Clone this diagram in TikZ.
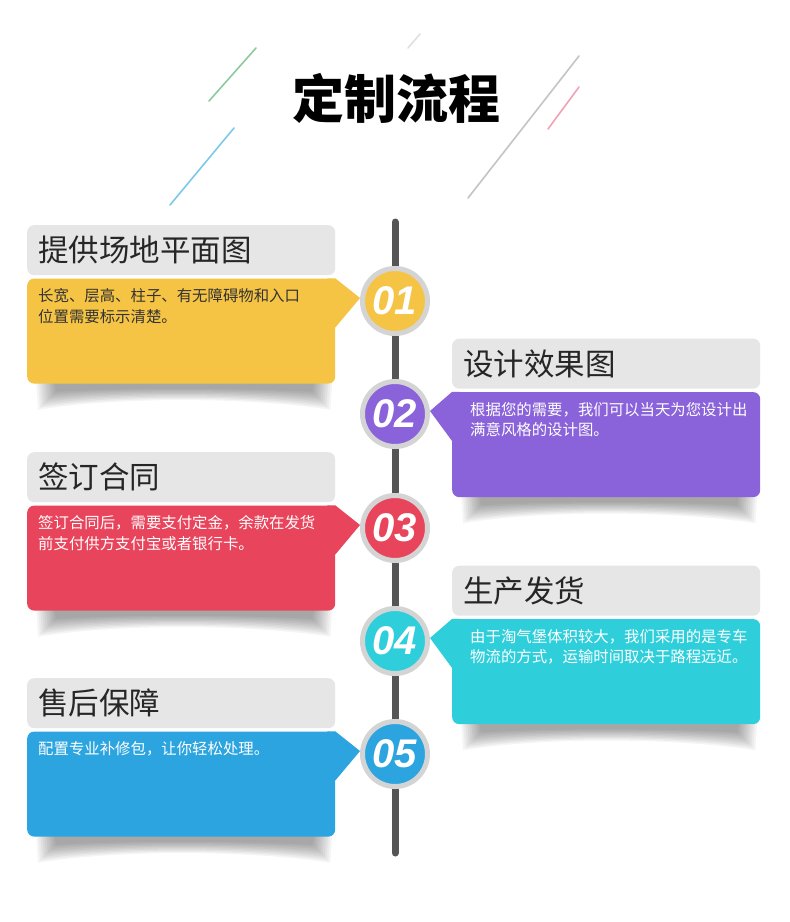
\documentclass[tikz,border=0pt]{standalone}
\usepackage{fontspec}
\newfontfamily\cjk{Noto Sans CJK SC}
\newfontfamily\numfont{Liberation Sans}
\usetikzlibrary{backgrounds,positioning}

\definecolor{stepyellow}{HTML}{F6C445}
\definecolor{steppurple}{HTML}{8A62DA}
\definecolor{stepred}{HTML}{E8445B}
\definecolor{stepcyan}{HTML}{2ECFDB}
\definecolor{stepblue}{HTML}{2BA4DF}
\definecolor{headgray}{HTML}{E6E6E6}
\definecolor{ringgray}{HTML}{D4D4D4}
\definecolor{railgray}{HTML}{555555}
\definecolor{strokegreen}{HTML}{8CCB9E}
\definecolor{strokeblue}{HTML}{7CC9EA}
\definecolor{strokegray}{HTML}{C4C4C4}
\definecolor{strokepink}{HTML}{F2A2B4}

\tikzset{
    flow chart/.style = {x=1pt, y=-1pt},
    rail/.style       = {line width=7pt, railgray, line cap=round},
    stroke/.style     = {line width=1.6pt, line cap=round},
    heading/.style    = {fill=headgray, rounded corners=7pt, inner xsep=11pt,
                         text width=286pt, align=left, minimum height=50pt,
                         text=black!85,
                         font=\cjk\fontsize{30.5}{32}\selectfont},
    card/.style       = {fill=#1, rounded corners=7pt, inner sep=0pt,
                         minimum width=308pt, minimum height=105pt},
    body/.style       = {align=left, inner sep=0pt, text=white,
                         font=\cjk\fontsize{15.4}{20.5}\selectfont},
    badge/.style      = {circle, fill=#1, draw=ringgray, line width=5pt,
                         minimum size=65pt, inner sep=0pt, text=white,
                         font=\numfont\bfseries\itshape\fontsize{40}{40}\selectfont},
    curl shadow/.style = {fill=black, opacity=0.04}
}

\begin{document}
\begin{tikzpicture}[flow chart]

\useasboundingbox (0,0) rectangle (790,922);

% ================= Title and strokes =================
\node[font=\cjk\bfseries\fontsize{52}{52}\selectfont] (title) at (396, 98) {定制流程};
\draw[stroke, strokegreen] (256, 48) -- (209, 101);
\draw[stroke, black!12] (420, 34) -- (408, 48);
\draw[stroke, strokeblue] (234, 128) -- (170, 205);
\draw[stroke, strokegray] (579, 56) -- (468, 198);
\draw[stroke, strokepink] (579, 87) -- (548, 129);

% ================= Timeline =================
\coordinate (rail top) at (395, 222);
\coordinate (rail bottom) at (395, 853);
\draw[rail] (rail top) -- (rail bottom);

% ================= Step 01 =================
\node[heading, anchor=north west] (head 1) at (27, 225) {提供场地平面图};
\node[card=stepyellow, below=3pt of head 1] (card 1) {};
\node[badge=stepyellow] (badge 1) at (395, 301) {01};
\fill[stepyellow] (card 1.north east) -- ([yshift=3pt]badge 1.west)
    -- ([yshift=-49pt]card 1.north east) -- ([xshift=-8pt, yshift=-49pt]card 1.north east)
    -- ([xshift=-8pt]card 1.north east) -- cycle;
\node[body, text=black!80, anchor=north west] (body 1)
    at ([xshift=11pt, yshift=-10pt]card 1.north west)
    {长宽、层高、柱子、有无障碍物和入口\\位置需要标示清楚。};

% ================= Step 02 =================
\node[heading, anchor=north west] (head 2) at (452, 338.5) {设计效果图};
\node[card=steppurple, below=3pt of head 2] (card 2) {};
\node[badge=steppurple] (badge 2) at (395, 414) {02};
\fill[steppurple] (card 2.north west) -- ([yshift=3pt]badge 2.east)
    -- ([yshift=-49pt]card 2.north west) -- ([xshift=8pt, yshift=-49pt]card 2.north west)
    -- ([xshift=8pt]card 2.north west) -- cycle;
\node[body, anchor=north west] (body 2)
    at ([xshift=18pt, yshift=-10pt]card 2.north west)
    {根据您的需要，我们可以当天为您设计出\\满意风格的设计图。};

% ================= Step 03 =================
\node[heading, anchor=north west] (head 3) at (27, 452) {签订合同};
\node[card=stepred, below=3pt of head 3] (card 3) {};
\node[badge=stepred] (badge 3) at (395, 528) {03};
\fill[stepred] (card 3.north east) -- ([yshift=3pt]badge 3.west)
    -- ([yshift=-49pt]card 3.north east) -- ([xshift=-8pt, yshift=-49pt]card 3.north east)
    -- ([xshift=-8pt]card 3.north east) -- cycle;
\node[body, anchor=north west] (body 3)
    at ([xshift=11pt, yshift=-10pt]card 3.north west)
    {签订合同后，需要支付定金，余款在发货\\前支付供方支付宝或者银行卡。};

% ================= Step 04 =================
\node[heading, anchor=north west] (head 4) at (452, 565.5) {生产发货};
\node[card=stepcyan, below=3pt of head 4] (card 4) {};
\node[badge=stepcyan] (badge 4) at (395, 641) {04};
\fill[stepcyan] (card 4.north west) -- ([yshift=3pt]badge 4.east)
    -- ([yshift=-49pt]card 4.north west) -- ([xshift=8pt, yshift=-49pt]card 4.north west)
    -- ([xshift=8pt]card 4.north west) -- cycle;
\node[body, anchor=north west] (body 4)
    at ([xshift=18pt, yshift=-10pt]card 4.north west)
    {由于淘气堡体积较大，我们采用的是专车\\物流的方式，运输时间取决于路程远近。};

% ================= Step 05 =================
\node[heading, anchor=north west] (head 5) at (27, 678) {售后保障};
\node[card=stepblue, below=3pt of head 5] (card 5) {};
\node[badge=stepblue] (badge 5) at (395, 754) {05};
\fill[stepblue] (card 5.north east) -- ([yshift=3pt]badge 5.west)
    -- ([yshift=-49pt]card 5.north east) -- ([xshift=-8pt, yshift=-49pt]card 5.north east)
    -- ([xshift=-8pt]card 5.north east) -- cycle;
\node[body, anchor=north west] (body 5)
    at ([xshift=11pt, yshift=-10pt]card 5.north west)
    {配置专业补修包，让你轻松处理。};

% ================= Card shadows =================
\begin{scope}[on background layer]
  \fill[white] (0,0) rectangle (790,922);
  \foreach \k in {1,...,5}
    \foreach \i in {0,...,9}
      \fill[curl shadow]
        ([xshift={9pt+2pt*\i}, yshift=4pt]card \k.south west)
        -- ([xshift={-3pt-2pt*\i}, yshift=4pt]card \k.south east)
        -- ([xshift={-5pt-2pt*\i}, yshift={-26pt+2pt*\i}]card \k.south east)
        .. controls ([xshift=-90pt, yshift={-13pt+1pt*\i}]card \k.south east)
               and ([xshift=90pt, yshift={-13pt+1pt*\i}]card \k.south west)
        .. ([xshift={11pt+2pt*\i}, yshift={-26pt+2pt*\i}]card \k.south west) -- cycle;
\end{scope}

\end{tikzpicture}
\end{document}
